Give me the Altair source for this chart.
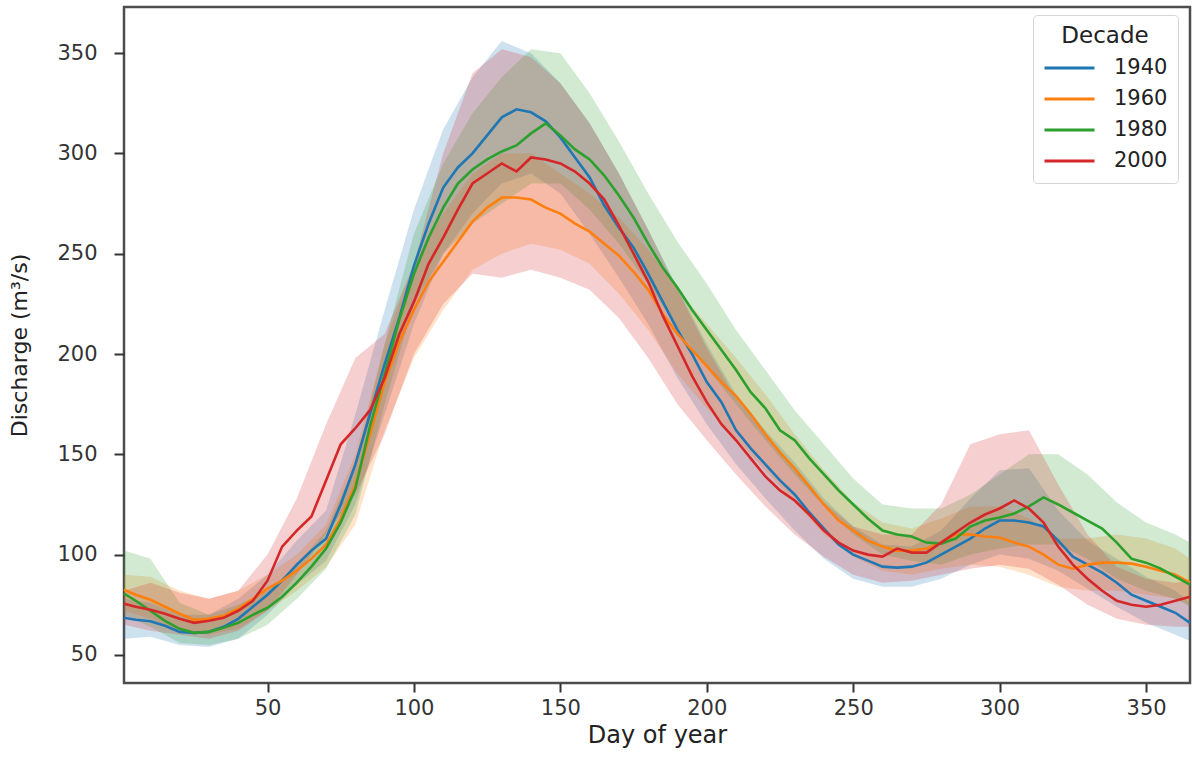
import altair as alt
import pandas as pd

decades = ["1940", "1960", "1980", "2000"]
colors = ["#1f77b4", "#ff7f0e", "#2ca02c", "#d62728"]

# day grid for the mean lines
days = [1] + list(range(5, 366, 5))

mean_1940 = [68.5, 67.5, 66.8, 64.5, 61.5, 61, 61.5, 64, 68, 74,
             80, 87, 95, 102, 108, 125, 145, 170, 195, 218,
             244, 265, 283, 293, 300, 309, 318, 322, 320.5, 316,
             308, 298, 288, 274, 263, 253, 240, 226, 212, 200,
             186, 176, 162, 153, 145, 137, 130, 121, 113, 105,
             100, 97, 94, 93.5, 94, 96, 100, 104, 108, 113,
             117, 117, 116, 114, 107, 99, 95, 91, 86, 80,
             77, 74, 71, 66]
mean_1960 = [82.5, 80, 77.5, 74, 70.5, 67.5, 68, 69.5, 73, 78,
             83, 87, 92, 98, 105, 118, 135, 160, 186, 206,
             222, 236, 246, 256, 266, 273, 278, 278, 277, 273,
             270, 265, 261, 255, 249, 241, 232, 220, 210, 202,
             194, 186, 179, 170, 160, 151, 143, 134, 125, 117,
             112, 107, 104, 102, 102, 103, 106, 110, 110, 109,
             108.5, 106, 104, 100, 95, 93, 95, 96, 96, 95.5,
             94, 92, 90, 86]
mean_1980 = [80.5, 77, 72, 67, 63, 61, 61.5, 63.5, 66, 70,
             73.5, 79, 86, 94, 103, 116, 133, 164, 190, 217,
             240, 258, 273, 285, 292, 297, 301, 304, 310, 315,
             309, 302, 297, 289, 279, 268, 255, 243, 233, 222,
             212, 202, 192, 181, 173, 162, 157, 148, 140, 132,
             125, 118, 112, 110, 109, 106, 105.5, 108, 114, 117,
             118.5, 120.5, 124, 128.5, 125, 121, 117, 113, 106, 98,
             96, 93, 89, 85]
mean_2000 = [75.5, 74, 72.5, 70.5, 68, 66, 67, 68.5, 72, 77,
             87, 104, 112, 119, 137, 155, 163, 172, 188, 210,
             226, 245, 258, 272, 285, 290, 295, 291, 298, 297,
             295, 291, 285, 277, 264, 250, 236, 219, 204, 189,
             176, 165, 157, 148, 139, 132, 127, 120, 112, 106,
             102, 100, 99, 103, 101, 101, 106, 111, 116, 120,
             123, 127, 123, 116, 104, 95, 88, 82, 77, 75,
             74, 75, 77, 79]

# day grid for the spread bands
band_days = [1] + list(range(10, 361, 10)) + [365]

low_1940 = [58, 59, 55, 54, 58, 70, 85, 97, 125, 170, 215, 250, 270, 285, 290, 280, 260, 238, 215,
            188, 165, 145, 128, 112, 98, 88, 84, 84, 88, 95, 100, 98, 92, 83, 74, 66, 60, 57]
high_1940 = [78, 76, 70, 70, 78, 90, 107, 122, 170, 222, 272, 312, 338, 356, 350, 335, 315, 290, 262,
             233, 205, 180, 162, 146, 128, 114, 105, 104, 112, 128, 142, 143, 122, 107, 98, 89, 82, 76]
low_1960 = [72, 68, 62, 60, 63, 72, 82, 94, 115, 162, 198, 222, 242, 250, 255, 252, 245, 230, 212,
            190, 173, 158, 142, 126, 110, 99, 92, 90, 93, 95, 94, 90, 84, 82, 82, 80, 78, 75]
high_1960 = [90, 89, 82, 78, 82, 90, 100, 115, 150, 205, 245, 270, 290, 300, 300, 290, 280, 268, 252,
             232, 215, 198, 180, 160, 142, 126, 116, 113, 118, 124, 124, 118, 108, 108, 110, 108, 103, 98]
low_1980 = [70, 64, 56, 55, 58, 65, 78, 93, 120, 175, 225, 250, 265, 275, 285, 285, 272, 255, 235,
            213, 193, 175, 157, 140, 124, 110, 100, 97, 95, 100, 103, 105, 105, 98, 88, 82, 78, 74]
high_1980 = [102, 98, 76, 70, 75, 82, 95, 112, 145, 205, 260, 295, 320, 338, 352, 350, 330, 306, 280,
             256, 235, 212, 192, 172, 155, 138, 125, 123, 123, 130, 140, 150, 150, 140, 126, 116, 110, 106]
low_2000 = [65, 62, 60, 58, 62, 72, 90, 110, 130, 160, 200, 225, 240, 238, 242, 238, 232, 218, 198,
            175, 157, 140, 124, 110, 99, 90, 86, 87, 90, 93, 95, 93, 85, 75, 68, 65, 64, 64]
high_2000 = [82, 86, 81, 78, 82, 100, 128, 165, 198, 210, 245, 300, 340, 352, 348, 335, 315, 290, 262,
             232, 203, 178, 160, 142, 126, 114, 110, 110, 125, 155, 160, 162, 135, 110, 94, 88, 86, 87]

means = [mean_1940, mean_1960, mean_1980, mean_2000]
lows = [low_1940, low_1960, low_1980, low_2000]
highs = [high_1940, high_1960, high_1980, high_2000]

line_rows = []
band_rows = []
for i, dec in enumerate(decades):
    for d, v in zip(days, means[i]):
        line_rows.append({"day": d, "value": v, "decade": dec, "order": i})
    for d, lo, hi in zip(band_days, lows[i], highs[i]):
        band_rows.append({"day": d, "low": lo, "high": hi, "decade": dec, "order": i})
lines_df = pd.DataFrame(line_rows)
bands_df = pd.DataFrame(band_rows)

font = "DejaVu Sans"
xscale = alt.Scale(domain=[1, 365], nice=False, zero=False)
yscale = alt.Scale(domain=[36, 373], nice=False, zero=False)
cscale = alt.Scale(domain=decades, range=colors)

xaxis = alt.Axis(title="Day of year", values=[50, 100, 150, 200, 250, 300, 350],
                 grid=False, domain=False, tickSize=9, tickWidth=2, tickColor="#333",
                 labelFontSize=21, labelColor="#333", labelPadding=5, labelFont=font,
                 titleFontSize=24, titleFontWeight="normal", titleColor="#222",
                 titleFont=font, titlePadding=5)
yaxis = alt.Axis(title="Discharge (m³/s)", values=[50, 100, 150, 200, 250, 300, 350],
                 grid=False, domain=False, tickSize=10, tickWidth=2, tickColor="#333",
                 labelFontSize=21, labelColor="#333", labelPadding=17, labelFont=font,
                 titleFontSize=22, titleFontWeight="normal", titleColor="#222",
                 titleFont=font, titlePadding=25)

legend = alt.Legend(
    title="Decade", orient="none", legendX=909, legendY=8,
    symbolType="stroke", symbolSize=2500, symbolStrokeWidth=3, symbolOpacity=1,
    clipHeight=24, rowPadding=7, labelOffset=18,
    labelFontSize=21, labelFont=font, labelColor="#222",
    titleFontSize=23, titleFont=font, titleFontWeight="normal", titleColor="#222",
    titleAnchor="middle", titlePadding=8,
    fillColor="white", strokeColor="#d5d5d5", cornerRadius=4, padding=10)

bands = alt.Chart(bands_df).mark_area(opacity=0.22, interpolate="linear").encode(
    x=alt.X("day:Q", scale=xscale, axis=xaxis),
    y=alt.Y("low:Q", scale=yscale, axis=yaxis),
    y2="high:Q",
    color=alt.Color("decade:N", scale=cscale, legend=legend),
    detail="decade:N",
)

lines = alt.Chart(lines_df).mark_line(strokeWidth=2.6).encode(
    x=alt.X("day:Q", scale=xscale),
    y=alt.Y("value:Q", scale=yscale),
    color=alt.Color("decade:N", scale=cscale, legend=legend),
    order="order:Q",
)

chart = alt.layer(bands, lines).properties(
    width=1066, height=676,
    padding={"left": 124, "top": 7, "right": 2, "bottom": 76},
    autosize=alt.AutoSizeParams(type="none"),
    background="white",
).configure_view(stroke="#4d4d4d", strokeWidth=2.5)

chart.save("out.html", embed_options={"renderer": "svg", "actions": False})
